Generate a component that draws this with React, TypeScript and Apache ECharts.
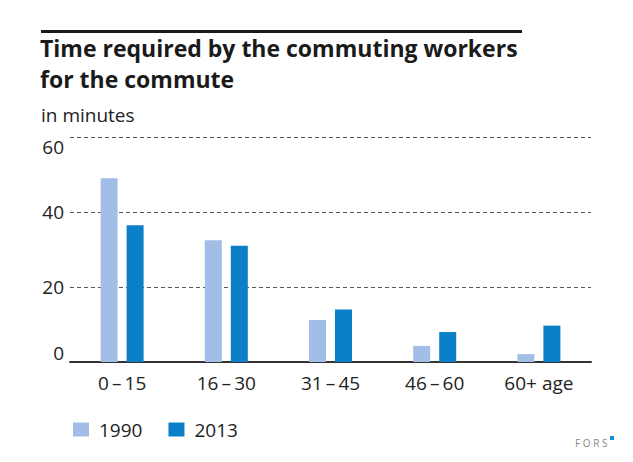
import React, { useEffect, useRef } from "react";
import * as echarts from "echarts";

const categories = ["0\u2009\u2013\u200915", "16\u2009\u2013\u200930", "31\u2009\u2013\u200945", "46\u2009\u2013\u200960", "60+ age"];
const values1990 = [49, 32.5, 11.2, 4.3, 2.1];
const values2013 = [36.5, 31, 14, 8, 9.7];
const seriesNames = ["1990", "2013"];
const yTicks = { min: 0, max: 60, interval: 20 };
const titleLines = ["Time required by the commuting workers", "for the commute"];

const FONT = "'Open Sans', 'Noto Sans', sans-serif";

export default function App() {
  const ref = useRef<HTMLDivElement>(null);
  useEffect(() => {
    if (!ref.current) return;
    const chart = echarts.init(ref.current, undefined, { renderer: "svg" });
    chart.setOption({
      animation: false,
      backgroundColor: "#ffffff",
      textStyle: { fontFamily: FONT },
      graphic: [
        { type: "rect", shape: { x: 41, y: 30, width: 481, height: 3 }, style: { fill: "#1a1a1a" } },
        {
          type: "text",
          x: 40,
          y: 48,
          style: {
            text: titleLines[0],
            font: `bold 23px ${FONT}`,
            fill: "#1a1a1a",
            verticalAlign: "middle",
          },
        },
        {
          type: "text",
          x: 40,
          y: 79,
          style: {
            text: titleLines[1],
            font: `bold 23px ${FONT}`,
            fill: "#1a1a1a",
            verticalAlign: "middle",
          },
        },
        {
          type: "text",
          x: 41,
          y: 105,
          style: { text: "in minutes", font: `19px ${FONT}`, fill: "#222" },
        },
        {
          type: "text",
          x: 575,
          y: 438,
          style: { text: "F O R S", font: `10px ${FONT}`, fill: "#888" },
        },
        { type: "rect", shape: { x: 610, y: 436, width: 4, height: 4 }, style: { fill: "#1a8fd6" } },
      ],
      legend: {
        left: 68,
        top: 415,
        itemWidth: 16,
        itemHeight: 14,
        itemGap: 26,
        icon: "rect",
        data: seriesNames,
        textStyle: { fontFamily: FONT, fontSize: 19, color: "#222", padding: [0, 0, 0, 5] },
      },
      grid: { left: 70, right: 42, top: 137, bottom: 100 },
      xAxis: {
        type: "category",
        data: categories,
        axisLine: { lineStyle: { color: "#333", width: 2 } },
        axisTick: { show: false },
        axisLabel: { fontFamily: FONT, fontSize: 19, color: "#222", margin: 11 },
      },
      yAxis: {
        type: "value",
        min: yTicks.min,
        max: yTicks.max,
        interval: yTicks.interval,
        axisLine: { show: false },
        axisTick: { show: false },
        axisLabel: {
          fontFamily: FONT,
          fontSize: 19,
          color: "#222",
          margin: 6,
          verticalAlignMaxLabel: "top",
          verticalAlignMinLabel: "bottom",
        },
        splitLine: { lineStyle: { color: "#555", type: [4, 3], width: 1 } },
      },
      series: [
        {
          name: seriesNames[0],
          type: "bar",
          data: values1990,
          barWidth: 17,
          barGap: "53%",
          itemStyle: { color: "#a2bee6" },
        },
        {
          name: seriesNames[1],
          type: "bar",
          data: values2013,
          barWidth: 17,
          itemStyle: { color: "#0b7fc7" },
        },
      ],
    });
    return () => chart.dispose();
  }, []);
  return <div ref={ref} style={{ width: 633, height: 462, position: "absolute", left: 0, top: 0 }} />;
}
